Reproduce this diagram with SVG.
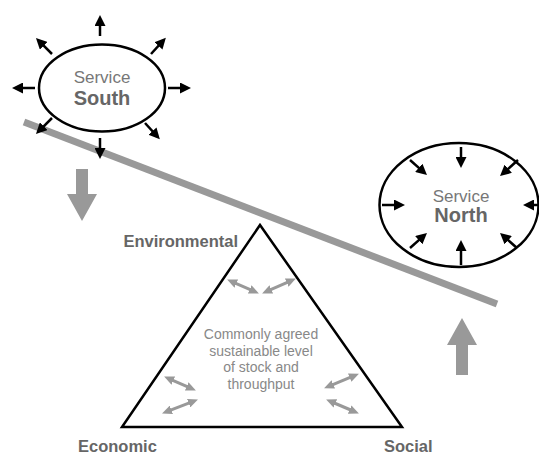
<svg xmlns="http://www.w3.org/2000/svg" width="539" height="454" viewBox="0 0 539 454">
<style>
.ell{fill:#fff;stroke:#000;stroke-width:2.5}
.ba{stroke:#000;stroke-width:2.5;fill:none;marker-end:url(#hb)}
.ga{stroke:#999;stroke-width:3;fill:none;marker-start:url(#hg);marker-end:url(#hg)}
.t1{font-family:"Liberation Sans",Arial,sans-serif;font-size:17px;fill:#777;text-anchor:middle}
.t2{font-family:"Liberation Sans",Arial,sans-serif;font-size:20px;font-weight:bold;fill:#666;text-anchor:middle}
.lab{font-family:"Liberation Sans",Arial,sans-serif;font-size:16.5px;font-weight:bold;fill:#666}
.ctr{font-family:"Liberation Sans",Arial,sans-serif;font-size:14px;fill:#888;text-anchor:middle}
</style>
<defs>
<marker id="hb" viewBox="0 0 11 11" refX="5" refY="5.5" markerWidth="11" markerHeight="11" markerUnits="userSpaceOnUse" orient="auto"><path d="M0,0 L11,5.5 L0,11 z" fill="#000"/></marker>
<marker id="hg" viewBox="0 0 10 9" refX="5" refY="4.5" markerWidth="10" markerHeight="9" markerUnits="userSpaceOnUse" orient="auto-start-reverse"><path d="M0,0 L10,4.5 L0,9 z" fill="#999"/></marker>
</defs>
<rect width="539" height="454" fill="#fff"/>

<g id="beam"><line x1="24" y1="122" x2="497" y2="304" stroke="#999" stroke-width="7"/></g>

<g id="south">
<ellipse class="ell" cx="102" cy="88" rx="63" ry="43.5"/>
<text class="t1" x="102" y="83">Service</text>
<text class="t2" x="102" y="105">South</text>
</g>

<g id="north">
<ellipse class="ell" cx="459" cy="205" rx="79.5" ry="62"/>
<text class="t1" x="461" y="201.5">Service</text>
<text class="t2" x="461" y="221.5">North</text>
</g>

<g id="triangle">
<polygon points="260,225 122,427 402,427" fill="none" stroke="#000" stroke-width="2.5" stroke-linejoin="miter"/>
<text class="ctr" x="261" y="339">Commonly agreed</text>
<text class="ctr" x="261" y="355.5">sustainable level</text>
<text class="ctr" x="261" y="372">of stock and</text>
<text class="ctr" x="261" y="388.5">throughput</text>
</g>

<g id="label-environmental"><text class="lab" x="238" y="247" text-anchor="end">Environmental</text></g>
<g id="label-economic"><text class="lab" x="78" y="452">Economic</text></g>
<g id="label-social"><text class="lab" x="384" y="452">Social</text></g>

<g id="connectors">
<line class="ba" x1="100" y1="36" x2="100" y2="21"/>
<line class="ba" x1="35" y1="88" x2="18" y2="88"/>
<line class="ba" x1="168" y1="88" x2="185" y2="88"/>
<line class="ba" x1="100" y1="138" x2="100" y2="153"/>
<line class="ba" x1="52" y1="54" x2="40.2" y2="42.2"/>
<line class="ba" x1="151" y1="54" x2="161.8" y2="42.2"/>
<line class="ba" x1="52" y1="118" x2="40.2" y2="129.8"/>
<line class="ba" x1="145" y1="123" x2="155.8" y2="134.8"/>

<line class="ba" x1="461" y1="147" x2="461" y2="162"/>
<line class="ba" x1="461" y1="265" x2="461" y2="246"/>
<line class="ba" x1="382" y1="205" x2="399" y2="205"/>
<line class="ba" x1="539" y1="205" x2="529" y2="205"/>
<line class="ba" x1="410" y1="160" x2="422.5" y2="171.1"/>
<line class="ba" x1="518" y1="160" x2="504.5" y2="172.1"/>
<line class="ba" x1="410" y1="248" x2="422.5" y2="236.9"/>
<line class="ba" x1="517" y1="248" x2="504.5" y2="236.9"/>

<path d="M76,169 H88 V194 H97 L82,221 L67,194 H76 Z" fill="#999"/>
<path d="M456,375 H468 V345 H477 L462,318 L447,345 H456 Z" fill="#999"/>

<line class="ga" x1="231.7" y1="281.6" x2="254.3" y2="291.4"/>
<line class="ga" x1="266.7" y1="291.4" x2="291.3" y2="280.6"/>
<line class="ga" x1="168.7" y1="378.6" x2="191.3" y2="388.4"/>
<line class="ga" x1="166.7" y1="411.6" x2="193.3" y2="401.4"/>
<line class="ga" x1="328.7" y1="386.4" x2="354.3" y2="375.6"/>
<line class="ga" x1="330.7" y1="401.5" x2="354.3" y2="411.5"/>
</g>
</svg>
